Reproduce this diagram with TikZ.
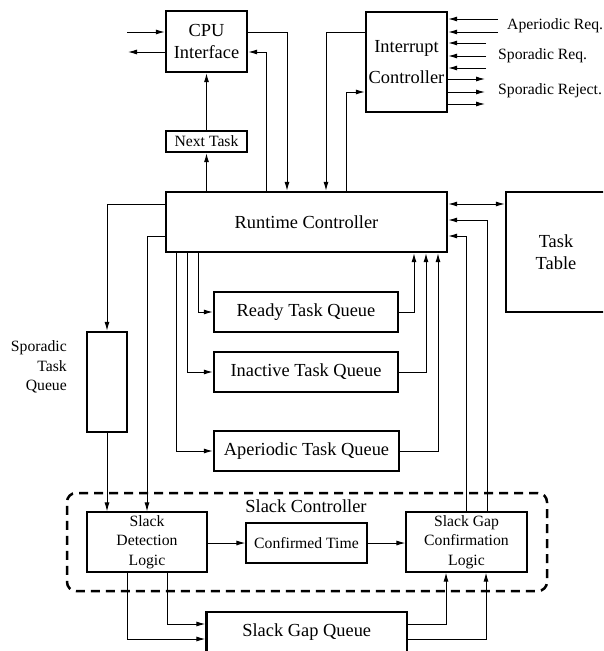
\documentclass[tikz,border=0pt]{standalone}
\usepackage{fontspec}
\setmainfont{Liberation Serif}
\usetikzlibrary{arrows.meta}
\newcommand{\bigf}{\fontsize{18.4}{22}\selectfont}
\newcommand{\smallf}{\fontsize{15.7}{19.5}\selectfont}
\begin{document}
\begin{tikzpicture}[x=1pt,y=-1pt,
  thickbox/.style={draw, line width=2.2pt, inner sep=0pt, align=center, font=\bigf},
  thinbox/.style={draw, line width=1.1pt, inner sep=0pt, align=center, font=\smallf},
  arr/.style={line width=1pt, -{Latex[length=9pt,width=5pt]}},
  ln/.style={line width=1pt},
  lbl/.style={inner sep=0pt, font=\smallf}]
\clip (0,0) rectangle (603,651);
% boxes
\node[thickbox, minimum width=81, minimum height=61] (cpu) at (206.5,41.5) {CPU\\Interface};
\node[thickbox, minimum width=81, minimum height=21, font=\smallf] (nt) at (206.5,141.5) {Next Task};
\node[thickbox, minimum width=81, minimum height=100] (ic) at (406.5,62) {Interrupt\\[9pt]Controller};
\node[thickbox, minimum width=281, minimum height=60] (rt) at (306.5,222) {Runtime Controller};
\node[thickbox, minimum width=100, minimum height=120] (tt) at (556,252) {Task\\Table};
\node[thickbox, minimum width=184, minimum height=40] (rq) at (306,312) {Ready Task Queue};
\node[thickbox, minimum width=184, minimum height=40] (iq) at (306,372) {Inactive Task Queue};
\node[thickbox, minimum width=185, minimum height=40] (aq) at (306.5,451) {Aperiodic Task Queue};
\node[thickbox, minimum width=40, minimum height=100] (stq) at (107,382) {};
\node[lbl, anchor=east, align=right] (stql) at (67,367) {Sporadic\\Task\\Queue};
\node[draw, line width=2.5pt, dash pattern=on 9pt off 6pt, rounded corners=9pt,
      minimum width=480, minimum height=98, inner sep=0pt] (sc) at (307,542) {};
\node[inner sep=0pt, font=\bigf] (scl) at (306,506) {Slack Controller};
\node[thinbox, minimum width=120, minimum height=60] (sdl) at (147,542) {Slack\\Detection\\Logic};
\node[thinbox, minimum width=121, minimum height=40] (ct) at (306.5,543) {Confirmed Time};
\node[thinbox, minimum width=121, minimum height=60] (sgcl) at (466.5,542) {Slack Gap\\Confirmation\\Logic};
\node[thickbox, minimum width=200.5, minimum height=40] (sgq) at (306.75,632) {Slack Gap Queue};
% CPU interface external
\coordinate (cin) at (127,32);
\coordinate (cout) at (128,52);
\draw[arr] (cin) -- (cin -| cpu.west);
\draw[arr] (cout -| cpu.west) -- (cout);
\draw[arr] (cpu.east |- 0,32) -| (rt.north -| 287,0);
\draw[arr] (rt.north -| 266,0) |- (cpu.east |- 0,52);
\draw[arr] (nt.north) -- (cpu.south);
\draw[arr] (rt.north -| nt.south) -- (nt.south);
% interrupt controller
\draw[arr] (ic.west |- 0,32) -| (rt.north -| 326,0);
\draw[arr] (rt.north -| 346,0) |- (ic.west |- 0,92);
\coordinate (r1) at (498,19);
\coordinate (r2) at (498,32);
\coordinate (r3) at (486,43);
\coordinate (r4) at (486,56);
\coordinate (r5) at (486,68);
\coordinate (o1) at (485,79);
\coordinate (o2) at (485,92);
\coordinate (o3) at (485,104);
\foreach \c in {r1,r2,r3,r4,r5} \draw[arr] (\c) -- (\c -| ic.east);
\foreach \c in {o1,o2,o3} \draw[arr] (\c -| ic.east) -- (\c);
\node[lbl, anchor=west] (l1) at (507,26) {Aperiodic Req.};
\node[lbl, anchor=west] (l2) at (498,56) {Sporadic Req.};
\node[lbl, anchor=west] (l3) at (498,91) {Sporadic Reject.};
% task table
\draw[line width=1pt, {Latex[length=9pt,width=5pt]}-{Latex[length=9pt,width=5pt]}] (rt.east |- 0,204) -- (tt.west |- 0,204);
\draw[arr] (sgcl.north -| 487,0) |- (rt.east |- 0,220);
\draw[arr] (sgcl.north -| 466,0) |- (rt.east |- 0,236);
% queues
\draw[arr] (rt.south -| 198,0) |- (rq.west);
\draw[arr] (rq.east) -| (rt.south -| 414,0);
\draw[arr] (rt.south -| 187,0) |- (iq.west);
\draw[arr] (iq.east) -| (rt.south -| 426,0);
\draw[arr] (rt.south -| 176,0) |- (aq.west);
\draw[arr] (aq.east) -| (rt.south -| 438,0);
% left side
\draw[arr] (rt.west |- 0,204) -| (stq.north);
\draw[arr] (rt.west |- 0,236) -| (sdl.north);
\draw[arr] (stq.south) -- (sdl.north -| stq.south);
% slack controller
\draw[arr] (sdl.east |- ct.west) -- (ct.west);
\draw[arr] (ct.east) -- (sgcl.west |- ct.east);
\draw[arr] (sdl.south -| 127,0) |- (sgq.west |- 0,639);
\draw[arr] (sdl.south -| 167,0) |- (sgq.west |- 0,624);
\draw[arr] (sgq.east |- 0,624) -| (sgcl.south -| 446,0);
\draw[arr] (sgq.east |- 0,639) -| (sgcl.south -| 486,0);
\end{tikzpicture}
\end{document}
